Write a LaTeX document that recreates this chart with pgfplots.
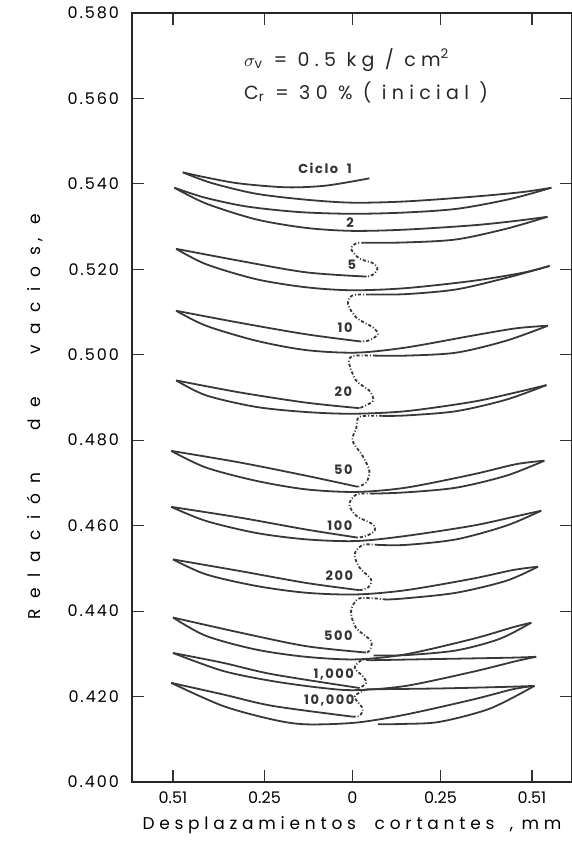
\documentclass[border=0pt]{standalone}
\usepackage{fontspec}
\setmainfont{Poppins}
\newfontfamily\spfont[LetterSpace=12]{Poppins}
\newfontfamily\wfont[LetterSpace=28]{Poppins}
\newfontfamily\yfont[LetterSpace=62]{Poppins}
\usepackage{pgfplots}
\pgfplotsset{compat=1.18}
\pgfplotsset{
  loop/.style={smooth, no marks, line width=0.9pt, color=black!78},
  dot/.style={smooth, no marks, line width=0.9pt, color=black!78, dash pattern=on 1.6pt off 1pt on 0.5pt off 1pt},
}
\tikzset{cyc/.style={font=\spfont\bfseries\fontsize{6.5}{8}\selectfont, text=black!80}}
\begin{document}
\begin{tikzpicture}
\useasboundingbox (-66pt,-35pt) rectangle (220pt,391pt);
\begin{axis}[
  at={(0,0)}, anchor=south west,
  scale only axis, width=220pt, height=384.5pt,
  xmin=-0.6264, xmax=0.6236, ymin=0.400, ymax=0.580,
  axis line style={line width=0.7pt, black!85},
  xtick={-0.51,-0.25,0,0.25,0.51},
  xticklabels={0.51,0.25,0,0.25,0.51},
  ytick={0.400,0.420,0.440,0.460,0.480,0.500,0.520,0.540,0.560,0.580},
  tick align=inside, major tick length=6pt,
  tick style={line width=0.6pt, black!80},
  /pgf/number format/assume math mode=true,
  yticklabel style={/pgf/number format/.cd, fixed, fixed zerofill, precision=3, /tikz/.cd,
    font=\spfont\fontsize{8}{10}\selectfont, xshift=-3pt},
  xticklabel style={font=\fontsize{8}{10}\selectfont, yshift=-1.5pt},
  xlabel={Desplazamientos\hspace{1.1em}cortantes\hspace{0.9em},\hspace{0.5em}mm},
  xlabel style={at={(axis description cs:0.5,-0.056)}, anchor=center, font=\wfont\fontsize{8.5}{10}\selectfont},
  ylabel={Relación\hspace{2.5em}de\hspace{2.5em}vacios\hspace{0.3em},\hspace{0.8em}e},
  ylabel style={at={(axis description cs:-0.2205,0.475)}, anchor=center, rotate=0, font=\yfont\fontsize{8.5}{10}\selectfont},
  clip=false,
]
% ciclo 1 y 2
\addplot[loop] coordinates {(0.048,0.5413) (-0.075,0.5396) (-0.188,0.5392) (-0.321,0.5401) (-0.416,0.5415) (-0.482,0.5427)};
\addplot[loop] coordinates {(-0.482,0.5427) (-0.40,0.5402) (-0.274,0.5377) (-0.132,0.5363) (0,0.5356) (0.152,0.5359) (0.342,0.5370) (0.484,0.5381) (0.565,0.5391)};
\addplot[loop] coordinates {(0.565,0.5391) (0.45,0.5365) (0.30,0.5342) (0.15,0.5333) (0,0.5330) (-0.15,0.5334) (-0.30,0.5347) (-0.42,0.5368) (-0.506,0.5391)};
\addplot[loop] coordinates {(-0.506,0.5391) (-0.416,0.5354) (-0.274,0.5317) (-0.132,0.5297) (0,0.5290) (0.152,0.5293) (0.342,0.5303) (0.46,0.5313) (0.554,0.5323)};
\addplot[loop] coordinates {(0.554,0.5323) (0.437,0.5295) (0.295,0.5270) (0.152,0.5263) (0.034,0.5262)};
\addplot[dot] coordinates {(0.034,0.5262) (0.011,0.5261) (-0.004,0.5248) (0.02,0.5225) (0.057,0.5215) (0.071,0.5201) (0.057,0.5187) (0.04,0.5183)};
% ciclo 5
\addplot[loop] coordinates {(0.04,0.5183) (-0.132,0.5193) (-0.321,0.5220) (-0.501,0.5248)};
\addplot[loop] coordinates {(-0.501,0.5248) (-0.416,0.5212) (-0.274,0.5177) (-0.132,0.5158) (0,0.5151) (0.152,0.5156) (0.342,0.5173) (0.484,0.5192) (0.560,0.5208)};
\addplot[loop] coordinates {(0.560,0.5208) (0.437,0.5180) (0.295,0.5153) (0.152,0.5142) (0.048,0.5141)};
\addplot[dot] coordinates {(0.048,0.5141) (0.0,0.5139) (-0.013,0.5119) (0.011,0.5087) (0.058,0.5064) (0.072,0.5048) (0.048,0.5034) (0.025,0.5031)};
% ciclo 10
\addplot[loop] coordinates {(0.025,0.5031) (-0.132,0.5048) (-0.321,0.5075) (-0.501,0.5103)};
\addplot[loop] coordinates {(-0.501,0.5103) (-0.416,0.5068) (-0.274,0.5033) (-0.132,0.5011) (0.01,0.5005) (0.152,0.5017) (0.342,0.5045) (0.465,0.5062) (0.555,0.5068)};
\addplot[loop] coordinates {(0.555,0.5068) (0.437,0.5033) (0.295,0.5005) (0.152,0.4998) (0.067,0.4998)};
\addplot[dot] coordinates {(0.067,0.4998) (0.0,0.4997) (-0.009,0.4978) (0.011,0.4939) (0.048,0.4916) (0.058,0.4892) (0.02,0.4875)};
% ciclo 20
\addplot[loop] coordinates {(0.02,0.4875) (-0.132,0.4888) (-0.321,0.4912) (-0.501,0.4940)};
\addplot[loop] coordinates {(-0.501,0.4940) (-0.416,0.4905) (-0.274,0.4878) (-0.132,0.4866) (0,0.4862) (0.152,0.4868) (0.342,0.4890) (0.465,0.4912) (0.551,0.4929)};
\addplot[loop] coordinates {(0.551,0.4929) (0.437,0.4895) (0.295,0.4868) (0.152,0.4858) (0.085,0.4857)};
\addplot[dot] coordinates {(0.085,0.4857) (0.02,0.4855) (0.011,0.4829) (0.0,0.4799) (0.029,0.4763) (0.048,0.4728) (0.039,0.4701) (0.015,0.4691)};
% ciclo 50
\addplot[loop] coordinates {(0.015,0.4691) (-0.132,0.4717) (-0.321,0.4748) (-0.515,0.4775)};
\addplot[loop] coordinates {(-0.515,0.4775) (-0.416,0.4736) (-0.274,0.4705) (-0.132,0.4685) (0.01,0.4679) (0.152,0.4689) (0.342,0.4720) (0.465,0.4744) (0.545,0.4752)};
\addplot[loop] coordinates {(0.545,0.4752) (0.437,0.4717) (0.295,0.4689) (0.152,0.4678) (0.058,0.4675)};
\addplot[dot] coordinates {(0.058,0.4675) (0.011,0.4673) (-0.009,0.4650) (0.011,0.4623) (0.058,0.4603) (0.063,0.4588) (0.039,0.4576) (0.015,0.4572)};
% ciclo 100
\addplot[loop] coordinates {(0.015,0.4572) (-0.132,0.4591) (-0.321,0.4619) (-0.515,0.4644)};
\addplot[loop] coordinates {(-0.515,0.4644) (-0.416,0.4611) (-0.274,0.4583) (-0.132,0.4568) (0.01,0.4564) (0.152,0.4576) (0.342,0.4600) (0.465,0.4622) (0.536,0.4635)};
\addplot[loop] coordinates {(0.536,0.4635) (0.437,0.4600) (0.295,0.4568) (0.152,0.4555) (0.072,0.4555)};
\addplot[dot] coordinates {(0.072,0.4555) (0.029,0.4555) (0.006,0.4533) (0.02,0.4502) (0.053,0.4474) (0.044,0.4455) (0.02,0.4449)};
% ciclo 200
\addplot[loop] coordinates {(0.02,0.4449) (-0.132,0.4466) (-0.321,0.4494) (-0.51,0.4521)};
\addplot[loop] coordinates {(-0.51,0.4521) (-0.416,0.4486) (-0.274,0.4459) (-0.132,0.4443) (0.01,0.4439) (0.152,0.4449) (0.342,0.4476) (0.455,0.4496) (0.527,0.4504)};
\addplot[loop] coordinates {(0.527,0.4504) (0.437,0.4471) (0.295,0.4443) (0.152,0.4430) (0.095,0.4427)};
\addplot[dot] coordinates {(0.095,0.4427) (0.02,0.4430) (-0.004,0.4400) (0.01,0.4361) (0.053,0.4330) (0.048,0.4307) (0.039,0.4303)};
% ciclo 500
\addplot[loop] coordinates {(0.039,0.4303) (-0.132,0.4318) (-0.321,0.4350) (-0.51,0.4385)};
\addplot[loop] coordinates {(-0.51,0.4385) (-0.416,0.4342) (-0.274,0.4310) (-0.132,0.4293) (0.01,0.4287) (0.152,0.4299) (0.342,0.4335) (0.455,0.4362) (0.508,0.4373)};
\addplot[loop] coordinates {(0.508,0.4373) (0.418,0.4335) (0.295,0.4308) (0.152,0.4297) (0.06,0.4296)};
\addplot[dot] coordinates {(0.048,0.4285) (0.025,0.4285) (0.006,0.4267) (0.029,0.4248) (0.039,0.4232) (0.02,0.4220)};
% ciclo 1000
\addplot[loop] coordinates {(0.048,0.4285) (0.25,0.4288) (0.45,0.4291) (0.522,0.4293)};
\addplot[loop] coordinates {(0.02,0.4220) (-0.226,0.4252) (-0.368,0.4279) (-0.51,0.4302)};
\addplot[loop] coordinates {(-0.51,0.4302) (-0.368,0.4260) (-0.226,0.4236) (-0.084,0.4220) (0.01,0.4215) (0.152,0.4225) (0.342,0.4258) (0.465,0.4283) (0.522,0.4293)};
\addplot[dot] coordinates {(0.04,0.4217) (0.006,0.4200) (0.029,0.4172) (0.02,0.4155) (0.0,0.4153)};
% ciclo 10000
\addplot[loop] coordinates {(0.04,0.4217) (0.25,0.4219) (0.45,0.4223) (0.517,0.4225)};
\addplot[loop] coordinates {(0.0,0.4153) (-0.226,0.4178) (-0.368,0.4205) (-0.515,0.4232)};
\addplot[loop] coordinates {(-0.515,0.4232) (-0.368,0.4178) (-0.226,0.4146) (-0.132,0.4135) (0.01,0.4139) (0.152,0.4158) (0.342,0.4193) (0.455,0.4217) (0.517,0.4225)};
\addplot[loop] coordinates {(0.517,0.4225) (0.391,0.4172) (0.249,0.4141) (0.15,0.4136) (0.072,0.4135)};
% rotulos
\node[anchor=west, font=\wfont\fontsize{9.5}{11}\selectfont, text=black!85] at (axis cs:-0.328,0.5690) {$\sigma_{\mathrm{v}}$ = 0.5 kg / cm$^{\mathrm{2}}$};
\node[anchor=west, font=\wfont\fontsize{9.5}{11}\selectfont, text=black!85] at (axis cs:-0.328,0.5615) {C$_{\mathrm{r}}$ = 30 \% ( inicial )};
\node[cyc] at (axis cs:-0.078,0.5437) {Ciclo\ \ 1};
\node[cyc] at (axis cs:-0.007,0.5309) {2};
\node[cyc] at (axis cs:-0.002,0.5210) {5};
\node[cyc] at (axis cs:-0.021,0.5063) {10};
\node[cyc] at (axis cs:-0.026,0.4914) {20};
\node[cyc] at (axis cs:-0.026,0.4732) {50};
\node[cyc] at (axis cs:-0.036,0.4599) {100};
\node[cyc] at (axis cs:-0.037,0.4482) {200};
\node[cyc] at (axis cs:-0.040,0.4342) {500};
\node[cyc] at (axis cs:-0.053,0.4252) {1,000};
\node[cyc] at (axis cs:-0.066,0.4190) {10,000};
\end{axis}
\end{tikzpicture}
\end{document}
